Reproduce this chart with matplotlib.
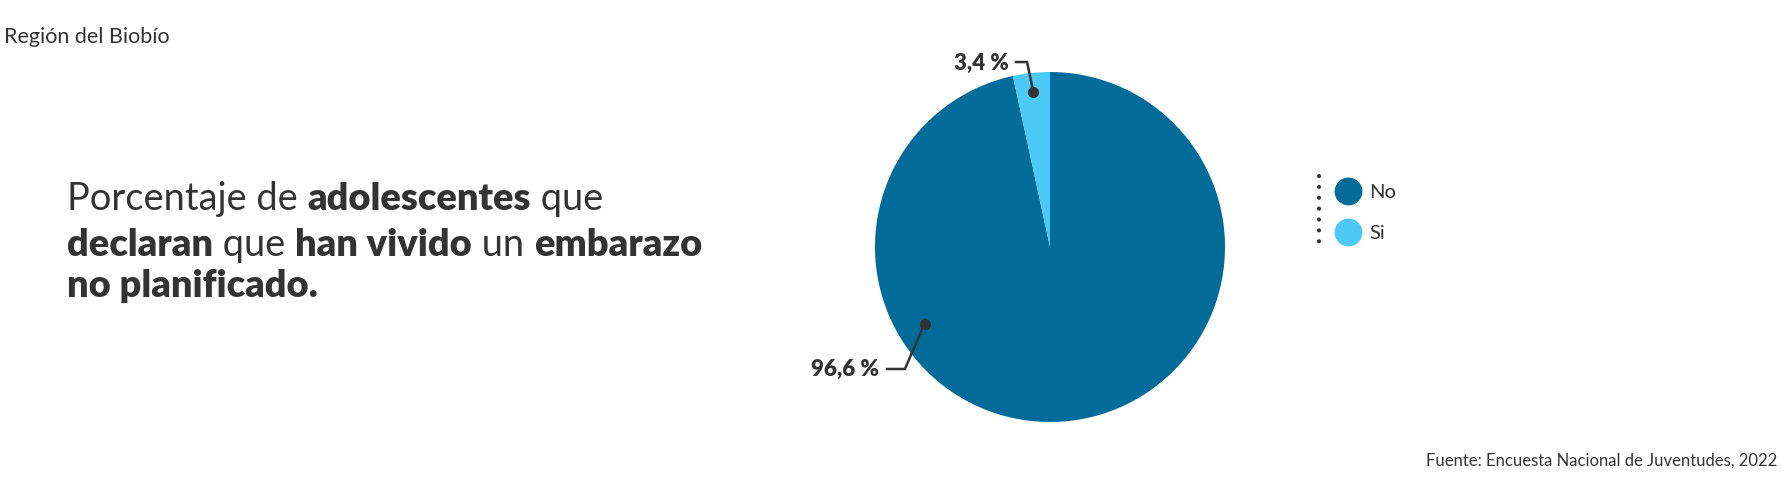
import numpy as np
import matplotlib
matplotlib.use("Agg")
import matplotlib.pyplot as plt

# ---- data ----
categories = ["No", "Si"]
values = [96.6, 3.4]
colors = ["#016c99", "#4cc9f7"]
region = "Región del Biobío"
title_pieces = [
    [("Porcentaje de ", "normal"), ("adolescentes", "bold"), (" que", "normal")],
    [("declaran", "bold"), (" que ", "normal"), ("han vivido", "bold"), (" un ", "normal"), ("embarazo", "bold")],
    [("no planificado.", "bold")],
]
source = "Fuente: Encuesta Nacional de Juventudes, 2022"

W, H = 1788, 478
TXT = "#333333"
FONT = ["Lato", "DejaVu Sans"]
plt.rcParams["font.family"] = FONT

fig = plt.figure(figsize=(W / 100, H / 100), dpi=100)
fig.patch.set_facecolor("white")

# overlay axes in pixel coords (origin top-left)
ov = fig.add_axes([0, 0, 1, 1], zorder=0)
ov.set_xlim(0, W)
ov.set_ylim(H, 0)
ov.axis("off")

# pie axes
cx, cy, R = 1050, 247, 175
pa = fig.add_axes([(cx - R) / W, (H - cy - R) / H, 2 * R / W, 2 * R / H], zorder=2)
pa.set_facecolor("none")
wedges, _ = pa.pie(values, colors=colors, startangle=90, counterclock=False,
                   radius=1, wedgeprops=dict(linewidth=0))
pa.set_xlim(-1, 1)
pa.set_ylim(-1, 1)
pa.set_aspect("equal")
pa.axis("off")

def lab(v):
    return f"{v:.1f} %".replace(".", ",")

# data labels with leader lines (style positions)
label_specs = {
    "Si": dict(ang=None, r=0.89, elbow=(-0.131, 1.057), end=(-0.194, 1.057), txt=(-0.236, 1.05)),
    "No": dict(ang=211.4, r=0.84, elbow=(-0.829, -0.697), end=(-0.931, -0.697), txt=(-0.975, -0.697)),
}
for w, cat, v in zip(wedges, categories, values):
    s = label_specs[cat]
    ang = s["ang"] if s["ang"] is not None else (w.theta1 + w.theta2) / 2
    a = np.deg2rad(ang)
    dx, dy = s["r"] * np.cos(a), s["r"] * np.sin(a)
    pa.plot([dx, s["elbow"][0], s["end"][0]], [dy, s["elbow"][1], s["end"][1]],
            color=TXT, lw=1.8, solid_joinstyle="miter", clip_on=False, zorder=5)
    pa.plot([dx], [dy], "o", color=TXT, ms=7, clip_on=False, zorder=6)
    pa.text(s["txt"][0], s["txt"][1], lab(v), ha="right", va="center",
            fontsize=16, fontweight="heavy", color=TXT, clip_on=False)

# region text
ov.text(4, 37, region, fontsize=15.5, color=TXT, va="center", ha="left")

# title with mixed weights
fig.canvas.draw()
renderer = fig.canvas.get_renderer()
baselines = [210, 256, 297]
x0 = 67
for pieces, yb in zip(title_pieces, baselines):
    x = x0
    for txt, wt in pieces:
        t = ov.text(x, yb, txt, fontsize=27.4, fontweight=("heavy" if wt == "bold" else "normal"),
                    color=TXT, va="baseline", ha="left")
        bb = t.get_window_extent(renderer=renderer)
        x += bb.width

# legend
ov.plot([1319, 1319], [176, 242], color=TXT, lw=3.0, linestyle=(0, (0.01, 2.6)),
        dash_capstyle="round")
leg_y = [191, 232]
for cat, col, y in zip(categories, colors, leg_y):
    ov.plot([1348], [y], "o", ms=19, color=col)
    ov.text(1369, y + 1, cat, fontsize=14.5, color=TXT, va="center", ha="left")

# source
ov.text(1777, 461, source, fontsize=12, color=TXT, va="center", ha="right")

fig.savefig("out.png", dpi=100, facecolor="white")
